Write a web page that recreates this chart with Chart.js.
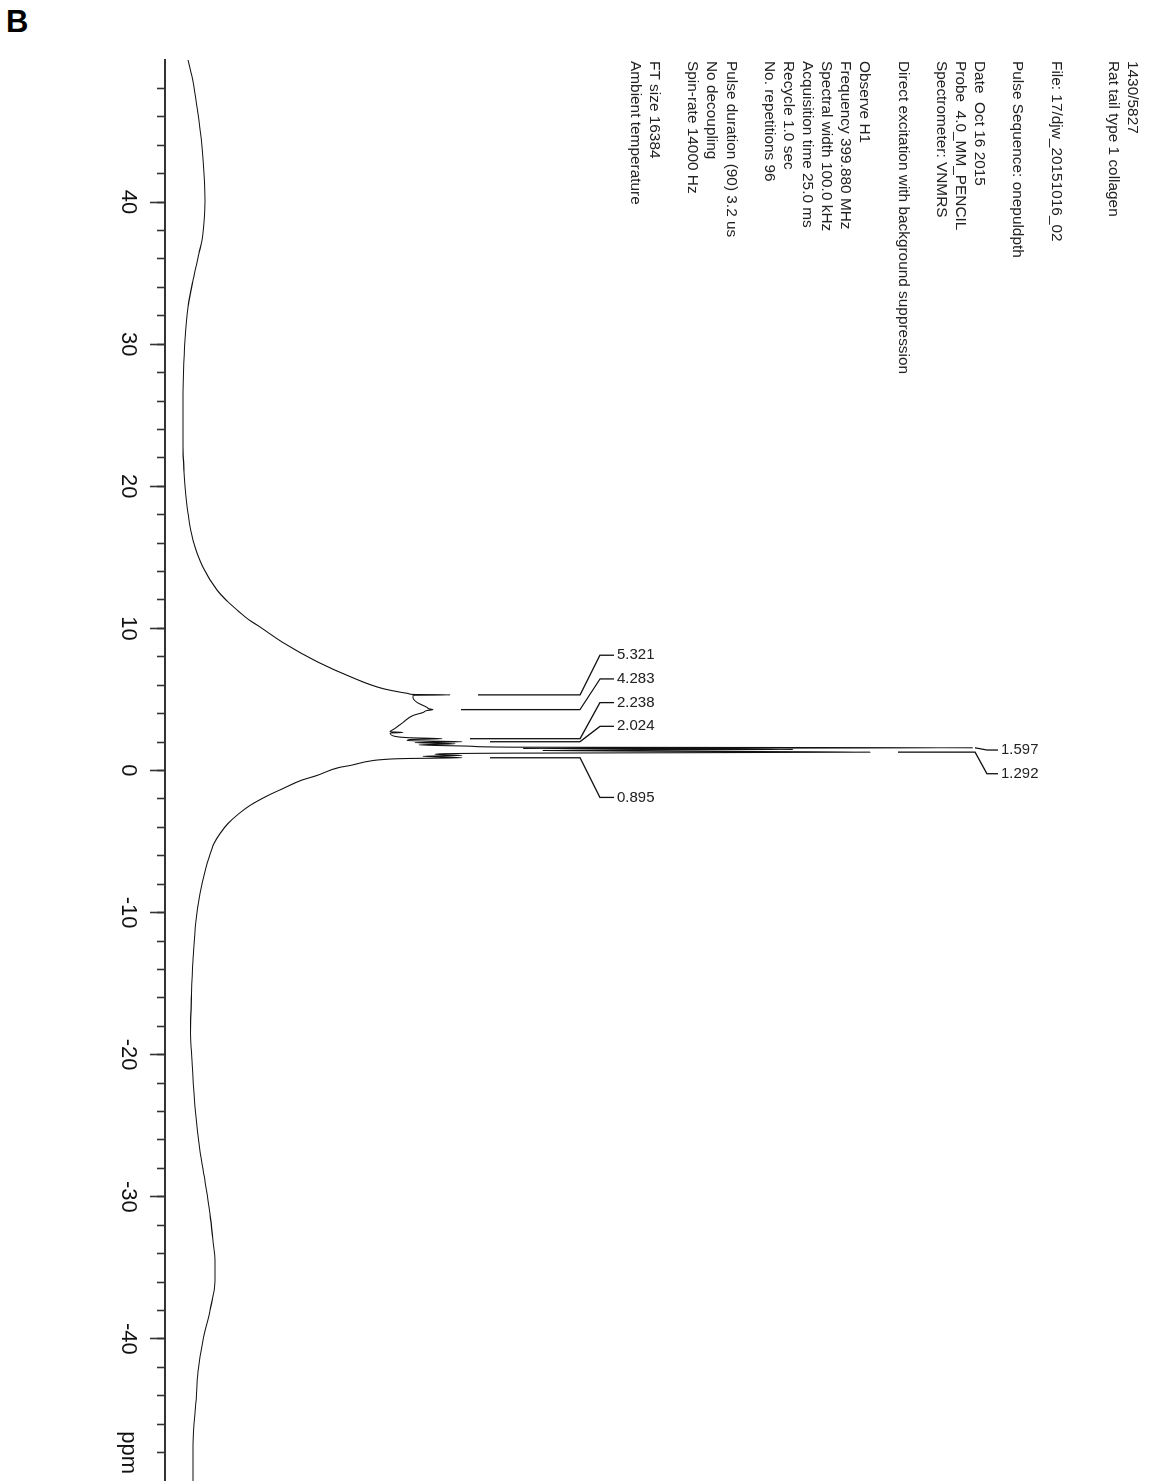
<!DOCTYPE html>
<html>
<head>
<meta charset="utf-8">
<script src="https://cdn.jsdelivr.net/npm/chart.js@4.4.0/dist/chart.umd.min.js"></script>
<style>
  html, body { margin: 0; padding: 0; background: #fff; }
  body { width: 1152px; height: 1483px; position: relative; overflow: hidden; }
  #panel { position: absolute; left: 6px; top: 6px; font: bold 31px "Liberation Sans", Arial, sans-serif; line-height: 1; color: #000; }
  /* spectrum is drawn landscape and turned a quarter clockwise */
  #spectrum { position: absolute; left: 0; top: 0; width: 1483px; height: 1152px;
              transform-origin: 0 0; transform: translate(1152px, 0) rotate(90deg); }
</style>
</head>
<body>
<div id="panel">B</div>
<canvas id="spectrum" width="1483" height="1152"></canvas>
<script>
// 1H MAS spectrum, rat tail type 1 collagen

const ppm = [
    50.0, 48.5, 46.7, 43.9, 42.0, 40.1, 38.6, 37.3, 36.4, 34.5, 32.6, 30.3, 28.0, 25.0, 22.8, 21.0,
    20.0, 18.1, 16.2, 14.3, 12.7, 12.0, 11.3, 10.6, 10.1, 9.0, 7.66, 6.61, 5.76, 5.50, 5.40, 5.35,
    5.321, 5.29, 5.14, 4.79, 4.44, 4.34, 4.283, 4.22, 4.08, 3.87, 3.38, 2.96, 2.72, 2.68, 2.63,
    2.40, 2.30, 2.238, 2.17, 2.10, 2.024, 1.96, 1.88, 1.80, 1.70, 1.64, 1.597, 1.55, 1.48, 1.41,
    1.36, 1.292, 1.22, 1.14, 1.06, 1.00, 0.895, 0.84, 0.77, 0.70, 0.35, 0.21, -0.35, -0.70, -1.27,
    -1.76, -2.46, -3.03, -3.73, -4.44, -5.14, -6.13, -6.83, -8.66, -10.56, -13.38, -15.70, -18.5,
    -20.4, -23.7, -26.8, -28.9, -31.2, -33.1, -34.5, -35.9, -38.0, -40.1, -42.3, -44.4, -46.5,
    -48.8, -50.0
];
const intensity = [
    5, 10, 14, 19, 21, 22, 21, 19, 16, 10, 5, 2, 0.5, 0, 0, 1,
    2, 5, 10, 20, 34, 43, 54, 66, 77, 100, 134, 167, 200, 218, 226, 230,
    267, 230, 230, 234, 244, 246, 250, 244, 240, 230, 220, 212, 207, 220, 207,
    212, 228, 259, 226, 224, 279, 232, 272, 236, 290, 330, 790, 340, 610, 360,
    460, 687, 330, 252, 279, 240, 279, 222, 200, 190, 167, 156, 134, 118, 100,
    85, 67, 56, 45, 37, 31, 26, 23, 17, 13, 10, 8.5, 7.5,
    9, 12, 17, 22, 27, 30, 32, 32, 27, 20, 15, 13, 10.5,
    10, 10
];

const majorTicks = [40, 30, 20, 10, 0, -10, -20, -30, -40];
const unitTick = -48;   // "ppm" sits on this minor tick
const peakLabels = [5.321, 4.283, 2.238, 2.024, 1.597, 1.292, 0.895];

const headerLines = [
    '1430/5827',
    'Rat tail type 1 collagen',
    '',
    '',
    'File: 17/djw_20151016_02',
    '',
    'Pulse Sequence: onepuldpth',
    '',
    'Date  Oct 16 2015',
    'Probe  4.0_MM_PENCIL',
    'Spectrometer: VNMRS',
    '',
    'Direct excitation with background suppression',
    '',
    'Observe H1',
    'Frequency 399.880 MHz',
    'Spectral width 100.0 kHz',
    'Acquisition time 25.0 ms',
    'Recycle 1.0 sec',
    'No. repetitions 96',
    '',
    'Pulse duration (90) 3.2 us',
    'No decoupling',
    'Spin-rate 14000 Hz',
    '',
    'FT size 16384',
    'Ambient temperature'
];

const points = ppm.map((p, i) => ({ x: p, y: intensity[i] }));

function peakTop(v) {
    let top = 0;
    points.forEach(pt => { if (Math.abs(pt.x - v) < 0.02 && pt.y > top) top = pt.y; });
    return top;
}

const FONT = '"Liberation Sans", Arial, sans-serif';

// parameter listing + peak picks with leader lines
const vnmrText = {
    id: 'vnmrText',
    afterDraw(chart) {
        const ctx = chart.ctx, xs = chart.scales.x, ys = chart.scales.y;
        ctx.save();
        ctx.fillStyle = '#222';
        ctx.font = '15.4px ' + FONT;
        ctx.textBaseline = 'middle';
        headerLines.forEach((line, i) => ctx.fillText(line, 61, 19.5 + i * 19.13));

        ctx.font = '15px ' + FONT;
        const px = peakLabels.map(v => xs.getPixelForValue(v));
        const mid = (Math.min(...px) + Math.max(...px)) / 2;
        const order = peakLabels.map((v, i) => i).sort((a, b) => px[a] - px[b]);
        ctx.strokeStyle = '#111';
        ctx.lineWidth = 1.3;
        order.forEach((idx, k) => {
            const slot = mid + (k - (order.length - 1) / 2) * 23.7;
            const top = peakTop(peakLabels[idx]);
            // bend, end of slant, end of stub, text start (in intensity units)
            const col = top > 500 ? [792, 804, 815, 818] : [397, 417, 431, 434];
            const start = Math.min(top + 28, col[0]);
            ctx.beginPath();
            ctx.moveTo(px[idx], ys.getPixelForValue(start));
            ctx.lineTo(px[idx], ys.getPixelForValue(col[0]));
            ctx.lineTo(slot, ys.getPixelForValue(col[1]));
            ctx.lineTo(slot, ys.getPixelForValue(col[2]));
            ctx.stroke();
            ctx.save();
            ctx.translate(slot, ys.getPixelForValue(col[3]));
            ctx.rotate(-Math.PI / 2);
            ctx.textAlign = 'left';
            ctx.fillText(peakLabels[idx].toFixed(3), 0, 0);
            ctx.restore();
        });
        ctx.restore();
    }
};

new Chart(document.getElementById('spectrum'), {
    type: 'line',
    data: {
        datasets: [{
            data: points,
            borderColor: '#111',
            borderWidth: 1.1,
            pointRadius: 0,
            fill: false,
            cubicInterpolationMode: 'monotone'
        }]
    },
    options: {
        responsive: false,
        animation: false,
        devicePixelRatio: 1,
        layout: { padding: { top: 152, left: 60, right: 1, bottom: 0 } },
        plugins: { legend: { display: false }, tooltip: { enabled: false } },
        scales: {
            xMinor: {
                type: 'linear', position: 'bottom', weight: 0,
                min: -50, max: 50, reverse: true,
                afterFit: s => { s.height = 0; },
                afterBuildTicks: s => { s.ticks = s.ticks.filter(t => Math.abs(t.value) < 50); },
                ticks: { display: false, stepSize: 2, autoSkip: false },
                grid: { drawOnChartArea: false, tickLength: 8, tickWidth: 1.6, tickColor: '#333' },
                border: { display: false }
            },
            x: {
                type: 'linear', position: 'bottom', weight: 1,
                min: -50, max: 50, reverse: true,
                afterFit: s => { s.height = 165; },
                afterBuildTicks: s => {
                    s.ticks = majorTicks.map(v => ({ value: v })).concat([{ value: unitTick }]);
                },
                ticks: {
                    autoSkip: false, minRotation: 0, maxRotation: 0, padding: 9,
                    color: '#111',
                    font: { family: FONT, size: 22 },
                    callback: v => v === unitTick ? 'ppm' : String(v)
                },
                grid: {
                    drawOnChartArea: false, tickLength: 15, tickWidth: 1.6,
                    tickColor: c => (c.tick && c.tick.value === unitTick) ? 'rgba(0,0,0,0)' : '#333'
                },
                border: { display: true, color: '#333', width: 2 }
            },
            y: { type: 'linear', display: false, min: -18, max: 817 }
        }
    },
    plugins: [vnmrText]
});
</script>
</body>
</html>
